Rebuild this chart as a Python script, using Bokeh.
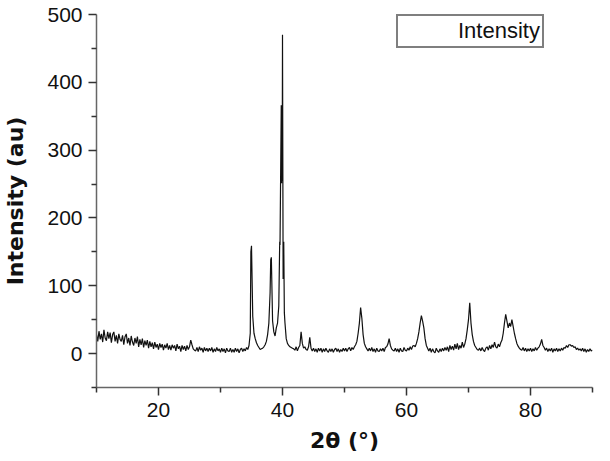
import numpy as np
from bokeh.plotting import figure
from bokeh.models import FixedTicker, Range1d, Legend, LegendItem
from bokeh.embed import file_html
from bokeh.resources import INLINE

# ---- data (2theta grid 10.0 .. 90.0, step 0.2) ----
theta_start = 10.0
theta_step = 0.2
intensity_grid = [
    28, 18, 33, 21, 29, 17, 35, 23, 19, 32,    # 10.0-11.8
    22, 31, 16, 28, 32, 18, 27, 15, 29, 21,    # 12.0-13.8
    18, 27, 13, 25, 29, 15, 23, 12, 26, 17,    # 14.0-15.8
    12, 23, 15, 25, 10, 21, 13, 22, 9, 19,     # 16.0-17.8
    12, 20, 8, 18, 10, 16, 7, 17, 9, 14,       # 18.0-19.8
    6, 15, 9, 14, 5, 13, 8, 15, 6, 12,         # 20.0-21.8
    5, 13, 8, 12, 4, 14, 7, 11, 3, 12,         # 22.0-23.8
    6, 11, 4, 12, 6, 10, 20, 13, 7, 5,         # 24.0-25.8
    4, 9, 3, 10, 5, 8, 2, 9, 4, 8,             # 26.0-27.8
    3, 8, 4, 9, 2, 7, 3, 9, 4, 7,              # 28.0-29.8
    2, 8, 3, 7, 1, 8, 4, 3, 8, 2,              # 30.0-31.8
    6, 2, 8, 3, 7, 1, 6, 8, 3, 7,              # 32.0-33.8
    4, 9, 6, 12, 30, 159, 55, 30, 22, 16,      # 34.0-35.8
    12, 9, 6, 7, 8, 10, 13, 18, 28, 45,        # 36.0-37.8
    90, 142, 48, 32, 26, 38, 45, 70, 160, 366, # 38.0-39.8
    470, 165, 45, 22, 15, 12, 10, 9, 8, 7,     # 40.0-41.8
    5, 10, 4, 9, 12, 32, 15, 8, 10, 6,         # 42.0-43.8
    5, 10, 24, 8, 4, 8, 3, 7, 2, 8,            # 44.0-45.8
    4, 8, 2, 7, 3, 8, 4, 2, 7, 3,              # 46.0-47.8
    7, 2, 6, 8, 3, 7, 2, 6, 3, 8,              # 48.0-49.8
    4, 8, 3, 7, 9, 4, 9, 6, 10, 13,            # 50.0-51.8
    18, 30, 45, 68, 52, 28, 15, 10, 7, 4,      # 52.0-53.8
    8, 4, 9, 3, 7, 2, 8, 4, 3, 7,              # 54.0-55.8
    4, 8, 3, 9, 10, 14, 22, 12, 7, 5,          # 56.0-57.8
    4, 8, 3, 7, 2, 8, 4, 3, 9, 5,              # 58.0-59.8
    4, 8, 5, 10, 6, 11, 12, 10, 15, 22,        # 60.0-61.8
    32, 45, 56, 48, 38, 22, 12, 8, 4, 8,       # 62.0-63.8
    2, 7, 3, 1, 8, 4, 2, 7, 3, 8,              # 64.0-65.8
    4, 9, 5, 10, 3, 12, 6, 11, 5, 14,          # 66.0-67.8
    7, 15, 6, 12, 8, 17, 9, 14, 22, 35,        # 68.0-69.8
    50, 75, 45, 28, 18, 12, 9, 6, 5, 8,        # 70.0-71.8
    4, 9, 5, 3, 8, 10, 5, 12, 7, 13,           # 72.0-73.8
    9, 17, 10, 8, 14, 10, 16, 20, 30, 45,      # 74.0-75.8
    58, 48, 38, 45, 40, 50, 40, 30, 22, 15,    # 76.0-77.8
    11, 8, 6, 5, 9, 4, 8, 3, 7, 4,             # 78.0-79.8
    8, 3, 7, 4, 9, 5, 8, 10, 14, 21,           # 80.0-81.8
    12, 9, 5, 8, 3, 7, 4, 8, 2, 7,             # 82.0-83.8
    4, 8, 3, 7, 4, 8, 5, 9, 8, 12,             # 84.0-85.8
    9, 13, 13, 11, 12, 9, 10, 6, 8, 5,         # 86.0-87.8
    7, 4, 8, 3, 7, 2, 6, 3, 7, 4,              # 88.0-89.8
    5,                                         # 90.0
]
# extra samples at the sharp peaks (between grid points)
peak_theta = [34.9, 38.1, 39.55, 39.85, 39.9, 39.95, 40.1, 40.3]
peak_intensity = [150, 138, 165, 251, 360, 255, 110, 60]

x_major = [20, 40, 60, 80]
x_minor = [10, 30, 50, 70, 90]
y_major = [0, 100, 200, 300, 400, 500]
y_minor = [-50, 50, 150, 250, 350, 450]
legend_text = "Intensity"
x_title = "2θ (°)"
y_title = "Intensity (au)"

# ---- build the series ----
grid_theta = np.round(theta_start + theta_step * np.arange(len(intensity_grid)), 2)
all_theta = np.concatenate([grid_theta, np.array(peak_theta)])
all_int = np.concatenate([np.array(intensity_grid, float), np.array(peak_intensity, float)])
order = np.argsort(all_theta, kind="stable")
xs = all_theta[order]
ys = all_int[order]

p = figure(width=594, height=455, output_backend="svg", toolbar_location=None,
           x_range=Range1d(10, 90), y_range=Range1d(-50, 500),
           min_border_left=87, min_border_right=2, min_border_top=14,
           min_border_bottom=60)
p.outline_line_color = None
p.xgrid.visible = False
p.ygrid.visible = False

p.line(xs, ys, line_color="#111111", line_width=1.2)
legend_r = p.line([], [], line_color="#e6e6e6", line_width=2)

for ax, maj, mnr in ((p.xaxis[0], x_major, x_minor), (p.yaxis[0], y_major, y_minor)):
    ax.ticker = FixedTicker(ticks=maj, minor_ticks=mnr)
    ax.axis_line_color = "#666666"
    ax.axis_line_width = 1.5
    ax.major_tick_line_color = "#333333"
    ax.minor_tick_line_color = "#333333"
    ax.major_tick_line_width = 1.5
    ax.minor_tick_line_width = 1.5
    ax.major_tick_out = 8
    ax.major_tick_in = 0
    ax.minor_tick_out = 5
    ax.minor_tick_in = 0
    ax.major_label_text_font = "Liberation Sans"
    ax.major_label_text_font_size = "21px"
    ax.major_label_text_color = "#111111"
    ax.axis_label_text_font = "DejaVu Sans"
    ax.axis_label_text_font_style = "bold"
    ax.axis_label_text_font_size = "22px"
    ax.axis_label_text_color = "#111111"

p.xaxis.axis_label = x_title
p.yaxis.axis_label = y_title
p.xaxis.major_label_standoff = 7
p.yaxis.major_label_standoff = 6
p.xaxis.axis_label_standoff = 8
p.yaxis.axis_label_standoff = 16

legend = Legend(items=[LegendItem(label=legend_text, renderers=[legend_r])],
                location=(300, 339))
legend.border_line_color = "#000000"
legend.border_line_width = 2
legend.background_fill_alpha = 1
legend.padding = 2
legend.margin = 0
legend.spacing = 0
legend.glyph_width = 54
legend.glyph_height = 16
legend.label_standoff = 4
legend.label_text_font = "Liberation Sans"
legend.label_text_font_size = "22px"
legend.label_text_color = "#111111"
legend.label_height = 16
p.add_layout(legend)

open("out.html", "w").write(file_html(p, INLINE))
